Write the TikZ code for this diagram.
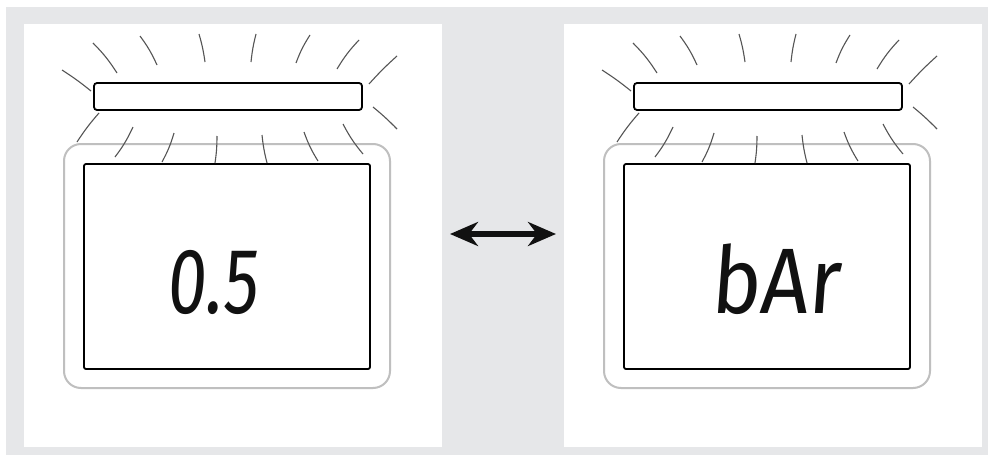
\documentclass[tikz,border=0pt]{standalone}
\usepackage{fontspec}
\setsansfont{Fira Sans}
\usetikzlibrary{arrows.meta, positioning}
\definecolor{lcdBack}{HTML}{E6E7E9}
\definecolor{lcdBezel}{HTML}{BFBFBF}
\definecolor{lcdRay}{HTML}{555555}
\definecolor{lcdInk}{HTML}{111111}
\tikzset{
  lcdnode/.style={inner sep=0pt, outer sep=0pt},
  panelbox/.style={lcdnode, fill=white, minimum width=418pt, minimum height=423pt},
  lampbar/.style={lcdnode, draw=black, line width=1.8pt, rounded corners=3pt,
    fill=white, minimum width=268pt, minimum height=27pt},
  bezel/.style={lcdnode, draw=lcdBezel, line width=2pt, rounded corners=17pt,
    minimum width=326pt, minimum height=244pt},
  screen/.style={lcdnode, draw=black, line width=1.8pt, rounded corners=2pt,
    minimum width=286pt, minimum height=205pt},
  ray/.style={lcdRay, line width=1.1pt},
  readout/.style={lcdnode, anchor=base, text=lcdInk,
    font=\sffamily\fontsize{93}{93}\selectfont, xscale=0.75, xslant=0.1},
  swap/.style={{Stealth[length=28pt, width=24pt, inset=9pt]}-{Stealth[length=28pt, width=24pt, inset=9pt]},
    line width=6.5pt, lcdInk}
}

\begin{document}
\begin{tikzpicture}[x=1pt, y=-1pt]
  \useasboundingbox (0,0) rectangle (988,455);
  \fill[lcdBack] (6,7) rectangle (988,455);
  % two display panels, the right one shifted by 540
  \foreach \dx/\sd in {0/L, 540/R}{
    \node[panelbox] (panel\sd) at (233+\dx,235.5) {};
    \node[bezel] (bezel\sd) at (227+\dx,266) {};
    \node[screen] (screen\sd) at (227+\dx,266.5) {};
    \node[lampbar] (bar\sd) at (228+\dx,96.5) {};
    \foreach \ax/\ay/\bx/\by/\bd in {
      62/70/91/91/3, 93/43/117/73/6, 140/36/157/65/6, 199/34/205/62/4,
      256/34/251/62/-4, 310/35/296/63/-6, 359/40/337/69/-6, 397/56/369/84/-3,
      373/107/397/129/3, 99/113/77/142/-4,
      133/127/115/157/6, 174/133/162/162/6, 217/136/215/163/4,
      262/135/267/163/-4, 304/132/318/161/-6, 343/124/363/154/-6}{
      \draw[ray] (\ax+\dx,\ay) to[bend left=\bd] (\bx+\dx,\by);
    }
  }
  \node[readout] (valueL) at (212,313) {0.5};
  \node[readout, xscale=1.2] (valueR) at (775,313) {bAr};
  % alternating readings
  \coordinate (swapL) at (450,234);
  \coordinate (swapR) at (556,234);
  \draw[swap] (swapL) -- (swapR);
\end{tikzpicture}
\end{document}
